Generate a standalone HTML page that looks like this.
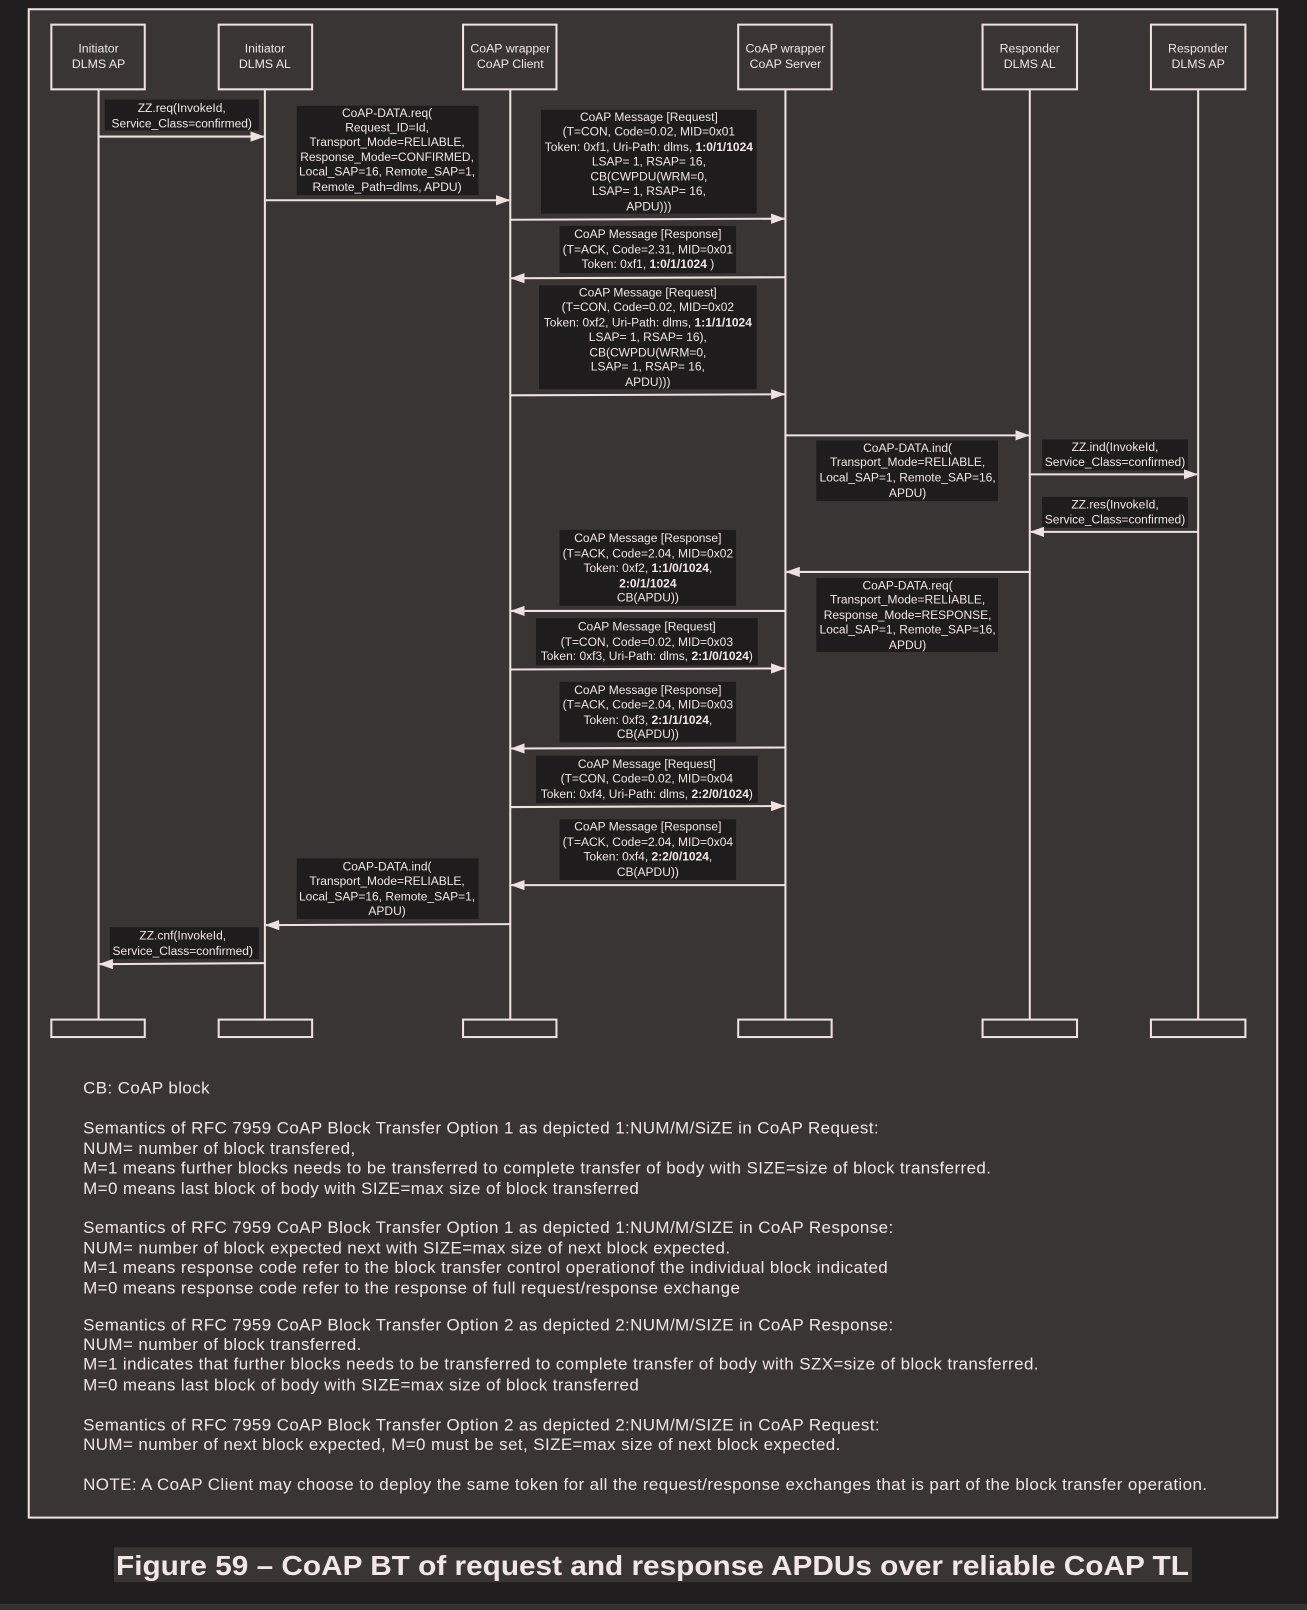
<!DOCTYPE html>
<html><head><meta charset="utf-8"><style>
html,body{margin:0;padding:0;background:#1f1d1d;}
svg{display:block}
text{font-family:"Liberation Sans",Arial,sans-serif;fill:#f2e6e6;}
.l{font-size:11.7px;text-anchor:middle}
.h{font-size:12px;text-anchor:middle}
.n{font-size:16.5px;letter-spacing:0.4px}
</style></head><body>
<svg width="1307" height="1610" viewBox="0 0 1273 1568" preserveAspectRatio="none" xmlns="http://www.w3.org/2000/svg">
<defs><marker id="a" markerWidth="14" markerHeight="10" refX="13" refY="5" orient="auto" markerUnits="userSpaceOnUse"><path d="M0,0 L14,5 L0,10 z" fill="#f0e0e0"/></marker></defs>
<rect width="1273" height="1568" fill="#1f1d1d"/>
<rect x="0" y="1562" width="1273" height="6" fill="#333"/>
<rect x="28" y="9" width="1216" height="1469" fill="#383534" stroke="#f0e0e0" stroke-width="2"/>
<g fill="none" stroke="#f0e0e0" stroke-width="2">
<rect x="50" y="24" width="91" height="63"/><rect x="213" y="24" width="91" height="63"/>
<rect x="451" y="24" width="91" height="63"/><rect x="719" y="24" width="91" height="63"/>
<rect x="957" y="24" width="92" height="63"/><rect x="1121" y="24" width="92" height="63"/>
<rect x="50" y="993" width="91" height="17"/><rect x="213" y="993" width="91" height="17"/>
<rect x="451" y="993" width="91" height="17"/><rect x="719" y="993" width="91" height="17"/>
<rect x="957" y="993" width="92" height="17"/><rect x="1121" y="993" width="92" height="17"/>
<path d="M96,87V993M258,87V993M497,87V993M765,87V993M1003,87V993M1167,87V993"/>
</g>
<g class="h">
<text x="96" y="51" class="h">Initiator</text><text x="96" y="66" class="h">DLMS AP</text>
<text x="258" y="51" class="h">Initiator</text><text x="258" y="66" class="h">DLMS AL</text>
<text x="497" y="51" class="h">CoAP wrapper</text><text x="497" y="66" class="h">CoAP Client</text>
<text x="765" y="51" class="h">CoAP wrapper</text><text x="765" y="66" class="h">CoAP Server</text>
<text x="1003" y="51" class="h">Responder</text><text x="1003" y="66" class="h">DLMS AL</text>
<text x="1167" y="51" class="h">Responder</text><text x="1167" y="66" class="h">DLMS AP</text>
</g>
<g fill="#1e1c1c">
<rect x="102" y="97" width="150" height="30"/><rect x="289" y="103" width="177" height="87"/>
<rect x="527" y="107" width="210" height="101"/><rect x="545" y="220" width="172" height="46"/>
<rect x="525" y="278" width="212" height="101"/><rect x="795" y="429" width="177" height="59"/>
<rect x="1015" y="428" width="142" height="30"/><rect x="1015" y="484" width="142" height="30"/>
<rect x="795" y="563" width="177" height="72"/><rect x="545" y="516" width="172" height="74"/>
<rect x="522" y="602" width="216" height="46"/><rect x="545" y="664" width="172" height="59"/>
<rect x="522" y="736" width="216" height="46"/><rect x="545" y="798" width="172" height="59"/>
<rect x="289" y="836" width="177" height="59"/><rect x="107" y="903" width="145" height="31"/>
</g>
<g stroke="#f0e0e0" stroke-width="2" marker-end="url(#a)">
<line x1="96" y1="133" x2="257" y2="133"/><line x1="258" y1="195" x2="496" y2="195"/>
<line x1="497" y1="214" x2="764" y2="213"/><line x1="765" y1="270" x2="498" y2="271"/>
<line x1="497" y1="385" x2="764" y2="384"/><line x1="765" y1="424" x2="1002" y2="424"/>
<line x1="1003" y1="462" x2="1166" y2="462"/><line x1="1167" y1="518" x2="1004" y2="518"/>
<line x1="1003" y1="557" x2="766" y2="557"/><line x1="765" y1="595" x2="498" y2="595"/>
<line x1="497" y1="652" x2="764" y2="651"/><line x1="765" y1="728" x2="498" y2="729"/>
<line x1="497" y1="786" x2="764" y2="785"/><line x1="765" y1="862" x2="498" y2="862"/>
<line x1="497" y1="900" x2="259" y2="901"/><line x1="258" y1="938" x2="97" y2="939"/>
</g>
<g class="l">
<text x="177" y="109" class="l">ZZ.req(InvokeId,</text><text x="177" y="124" class="l">Service_Class=confirmed)</text>
<text x="377" y="114" class="l">CoAP-DATA.req(</text><text x="377" y="128" class="l">Request_ID=Id,</text><text x="377" y="142" class="l">Transport_Mode=RELIABLE,</text><text x="377" y="157" class="l">Response_Mode=CONFIRMED,</text><text x="377" y="171" class="l">Local_SAP=16, Remote_SAP=1,</text><text x="377" y="186" class="l">Remote_Path=dlms, APDU)</text>
<text x="632" y="118" class="l">CoAP Message [Request]</text><text x="632" y="132" class="l">(T=CON, Code=0.02, MID=0x01</text><text x="632" y="147" class="l">Token: 0xf1, Uri-Path: dlms, <tspan font-weight="bold">1:0/1/1024</tspan></text><text x="632" y="161" class="l">LSAP= 1, RSAP= 16,</text><text x="632" y="176" class="l">CB(CWPDU(WRM=0,</text><text x="632" y="190" class="l">LSAP= 1, RSAP= 16,</text><text x="632" y="205" class="l">APDU)))</text>
<text x="631" y="232" class="l">CoAP Message [Response]</text><text x="631" y="247" class="l">(T=ACK, Code=2.31, MID=0x01</text><text x="631" y="261" class="l">Token: 0xf1,  <tspan font-weight="bold">1:0/1/1024</tspan> )</text>
<text x="631" y="289" class="l">CoAP Message [Request]</text><text x="631" y="303" class="l">(T=CON, Code=0.02, MID=0x02</text><text x="631" y="318" class="l">Token: 0xf2, Uri-Path: dlms, <tspan font-weight="bold">1:1/1/1024</tspan></text><text x="631" y="332" class="l">LSAP= 1, RSAP= 16),</text><text x="631" y="347" class="l">CB(CWPDU(WRM=0,</text><text x="631" y="361" class="l">LSAP= 1, RSAP= 16,</text><text x="631" y="376" class="l">APDU)))</text>
<text x="884" y="440" class="l">CoAP-DATA.ind(</text><text x="884" y="454" class="l">Transport_Mode=RELIABLE,</text><text x="884" y="469" class="l">Local_SAP=1, Remote_SAP=16,</text><text x="884" y="484" class="l">APDU)</text>
<text x="1086" y="439" class="l">ZZ.ind(InvokeId,</text><text x="1086" y="454" class="l">Service_Class=confirmed)</text>
<text x="1086" y="495" class="l">ZZ.res(InvokeId,</text><text x="1086" y="510" class="l">Service_Class=confirmed)</text>
<text x="884" y="574" class="l">CoAP-DATA.req(</text><text x="884" y="588" class="l">Transport_Mode=RELIABLE,</text><text x="884" y="603" class="l">Response_Mode=RESPONSE,</text><text x="884" y="617" class="l">Local_SAP=1, Remote_SAP=16,</text><text x="884" y="632" class="l">APDU)</text>
<text x="631" y="528" class="l">CoAP Message [Response]</text><text x="631" y="543" class="l">(T=ACK, Code=2.04, MID=0x02</text><text x="631" y="557" class="l">Token: 0xf2,  <tspan font-weight="bold">1:1/0/1024</tspan>,</text><text x="631" y="572" class="l" font-weight="bold">2:0/1/1024</text><text x="631" y="586" class="l">CB(APDU))</text>
<text x="630" y="614" class="l">CoAP Message [Request]</text><text x="630" y="629" class="l">(T=CON, Code=0.02, MID=0x03</text><text x="630" y="643" class="l">Token: 0xf3, Uri-Path: dlms, <tspan font-weight="bold">2:1/0/1024</tspan>)</text>
<text x="631" y="676" class="l">CoAP Message [Response]</text><text x="631" y="690" class="l">(T=ACK, Code=2.04, MID=0x03</text><text x="631" y="705" class="l">Token: 0xf3,  <tspan font-weight="bold">2:1/1/1024</tspan>,</text><text x="631" y="719" class="l">CB(APDU))</text>
<text x="630" y="748" class="l">CoAP Message [Request]</text><text x="630" y="762" class="l">(T=CON, Code=0.02, MID=0x04</text><text x="630" y="777" class="l">Token: 0xf4, Uri-Path: dlms, <tspan font-weight="bold">2:2/0/1024</tspan>)</text>
<text x="631" y="809" class="l">CoAP Message [Response]</text><text x="631" y="824" class="l">(T=ACK, Code=2.04, MID=0x04</text><text x="631" y="838" class="l">Token: 0xf4,  <tspan font-weight="bold">2:2/0/1024</tspan>,</text><text x="631" y="853" class="l">CB(APDU))</text>
<text x="377" y="848" class="l">CoAP-DATA.ind(</text><text x="377" y="862" class="l">Transport_Mode=RELIABLE,</text><text x="377" y="877" class="l">Local_SAP=16, Remote_SAP=1,</text><text x="377" y="891" class="l">APDU)</text>
<text x="178" y="915" class="l">ZZ.cnf(InvokeId,</text><text x="178" y="930" class="l">Service_Class=confirmed)</text>
</g>
<g class="n">
<text x="81" y="1065" class="n">CB: CoAP block</text>
<text x="81" y="1104" class="n">Semantics of RFC 7959 CoAP Block Transfer Option 1 as depicted 1:NUM/M/SiZE in CoAP Request:</text>
<text x="81" y="1124" class="n">NUM= number of block transfered,</text>
<text x="81" y="1143" class="n">M=1 means further blocks needs to be transferred to complete transfer of body with SIZE=size of block transferred.</text>
<text x="81" y="1163" class="n">M=0 means last block of body with SIZE=max size of block transferred</text>
<text x="81" y="1201" class="n">Semantics of RFC 7959 CoAP Block Transfer Option 1 as depicted 1:NUM/M/SIZE in CoAP Response:</text>
<text x="81" y="1221" class="n">NUM= number of block expected next with SIZE=max size of next block expected.</text>
<text x="81" y="1240" class="n">M=1 means response code refer to the block transfer control operationof the individual block indicated</text>
<text x="81" y="1260" class="n">M=0 means response code refer to the response of full request/response exchange</text>
<text x="81" y="1296" class="n">Semantics of RFC 7959 CoAP Block Transfer Option 2 as depicted 2:NUM/M/SIZE in CoAP Response:</text>
<text x="81" y="1315" class="n">NUM= number of block transferred.</text>
<text x="81" y="1334" class="n">M=1 indicates that further blocks needs to be transferred to complete transfer of body with SZX=size of block transferred.</text>
<text x="81" y="1354" class="n">M=0 means last block of body with SIZE=max size of block transferred</text>
<text x="81" y="1393" class="n">Semantics of RFC 7959 CoAP Block Transfer Option 2 as depicted 2:NUM/M/SIZE in CoAP Request:</text>
<text x="81" y="1412" class="n">NUM= number of next block expected, M=0 must be set, SIZE=max size of next block expected.</text>
<text x="81" y="1451" class="n" textLength="1095" lengthAdjust="spacing">NOTE: A CoAP Client may choose to deploy the same token for all the request/response exchanges that is part of the block transfer operation.</text>
</g>
<rect x="111" y="1507" width="1050" height="34" fill="#383534"/>
<text x="113" y="1534" font-size="27" font-weight="bold" textLength="1045" lengthAdjust="spacingAndGlyphs">Figure 59 – CoAP BT of request and response APDUs over reliable CoAP TL</text>
</svg>
</body></html>
